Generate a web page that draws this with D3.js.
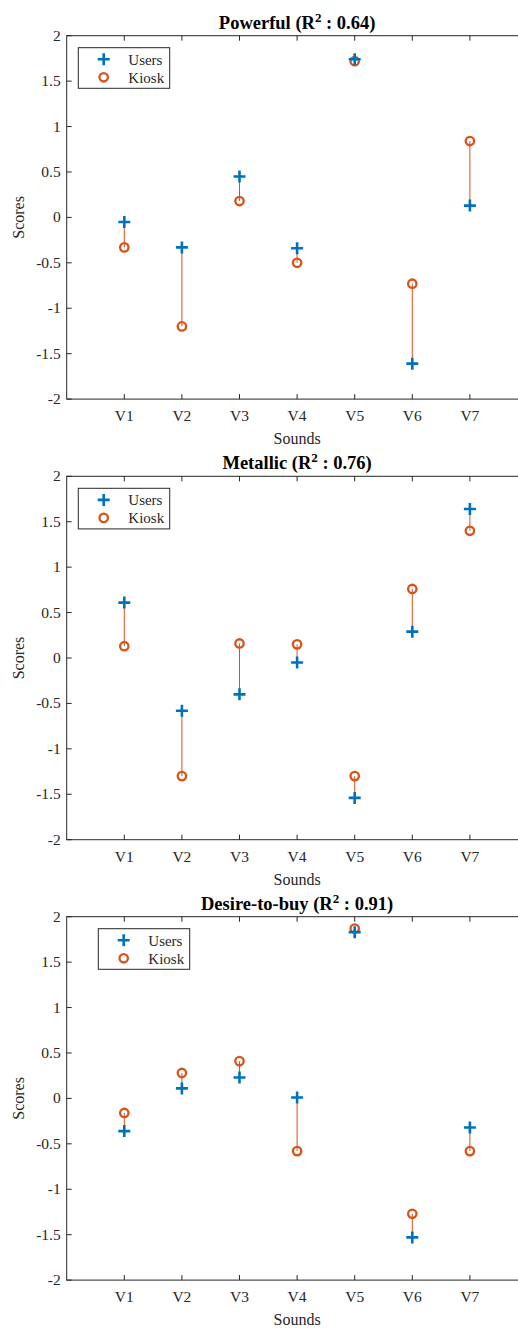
<!DOCTYPE html>
<html>
<head>
<meta charset="utf-8">
<script src="https://cdnjs.cloudflare.com/ajax/libs/d3/7.8.5/d3.min.js"></script>
<style>
  body { margin: 0; background: #fff; }
  svg { display: block; }
  text { font-family: "Liberation Serif", "Times New Roman", serif; fill: #262626; }
</style>
</head>
<body>
<div id="chart"></div>
<script>
// sound names on the x axis
const sounds = ["V1", "V2", "V3", "V4", "V5", "V6", "V7"];
const yTicks = [-2, -1.5, -1, -0.5, 0, 0.5, 1, 1.5, 2];

// panel titles and R^2
const titles = ["Powerful", "Metallic", "Desire-to-buy"];
const r2 = ["0.64", "0.76", "0.91"];

// scores
const powerfulUsers = [-0.05, -0.33, 0.45, -0.34, 1.74, -1.61, 0.13];
const powerfulKiosk = [-0.33, -1.20, 0.18, -0.50, 1.72, -0.73, 0.84];
const metallicUsers = [0.61, -0.58, -0.40, -0.05, -1.54, 0.29, 1.64];
const metallicKiosk = [0.13, -1.30, 0.16, 0.15, -1.30, 0.76, 1.40];
const desireUsers = [-0.36, 0.11, 0.23, 0.01, 1.83, -1.53, -0.32];
const desireKiosk = [-0.16, 0.28, 0.41, -0.58, 1.87, -1.27, -0.58];

const usersSeries = [powerfulUsers, metallicUsers, desireUsers];
const kioskSeries = [powerfulKiosk, metallicKiosk, desireKiosk];
const legendShift = [0, 0, 20];

const W = 518, H = 1328;
const blue = "#0072BD", orange = "#D95319", axisCol = "#262626";

const svg = d3.select("#chart").append("svg")
  .attr("width", W).attr("height", H);

const left = 66.7, right = 527.5, plotH = 363.4;
const tops = [35.7, 476.3, 916.7];

const x = d3.scaleLinear().domain([0, 8]).range([left, right]);

tops.forEach((top, p) => {
  const y = d3.scaleLinear().domain([-2, 2]).range([top + plotH, top]);
  const g = svg.append("g");
  const bottom = top + plotH;

  // box
  g.append("rect")
    .attr("x", left).attr("y", top)
    .attr("width", right - left).attr("height", plotH)
    .attr("fill", "none").attr("stroke", axisCol).attr("stroke-width", 1);

  // x ticks (bottom + top, inward)
  sounds.forEach((s, i) => {
    const xx = x(i + 1);
    g.append("line").attr("x1", xx).attr("x2", xx)
      .attr("y1", bottom).attr("y2", bottom - 5).attr("stroke", axisCol);
    g.append("line").attr("x1", xx).attr("x2", xx)
      .attr("y1", top).attr("y2", top + 5).attr("stroke", axisCol);
    g.append("text").attr("x", xx).attr("y", bottom + 22)
      .attr("text-anchor", "middle").attr("font-size", 15.5).text(s);
  });

  // y ticks
  yTicks.forEach(t => {
    const yy = y(t);
    g.append("line").attr("x1", left).attr("x2", left + 5)
      .attr("y1", yy).attr("y2", yy).attr("stroke", axisCol);
    g.append("text").attr("x", left - 6).attr("y", yy + 5)
      .attr("text-anchor", "end").attr("font-size", 15.5).text(t);
  });

  // axis labels
  g.append("text").attr("x", x(4)).attr("y", bottom + 45)
    .attr("text-anchor", "middle").attr("font-size", 16).text("Sounds");
  g.append("text")
    .attr("transform", `translate(24,${y(0)}) rotate(-90)`)
    .attr("text-anchor", "middle").attr("font-size", 16).text("Scores");

  // title
  const title = g.append("text").attr("x", x(4)).attr("y", top - 7)
    .attr("text-anchor", "middle").attr("font-size", 18.5)
    .attr("font-weight", "bold").style("fill", "#000");
  title.append("tspan").text(titles[p] + " (R");
  title.append("tspan").attr("dy", -7).attr("font-size", 13).text("2");
  title.append("tspan").attr("dy", 7).text(" : " + r2[p] + ")");

  const users = usersSeries[p], kiosk = kioskSeries[p];

  // connecting lines
  g.selectAll(".link").data(sounds).enter().append("line")
    .attr("x1", (d, i) => x(i + 1)).attr("x2", (d, i) => x(i + 1))
    .attr("y1", (d, i) => y(users[i])).attr("y2", (d, i) => y(kiosk[i]))
    .attr("stroke", orange).attr("stroke-width", 1);

  // kiosk circles
  g.selectAll(".kiosk").data(kiosk).enter().append("circle")
    .attr("cx", (d, i) => x(i + 1)).attr("cy", d => y(d))
    .attr("r", 4.2).attr("fill", "none")
    .attr("stroke", orange).attr("stroke-width", 2.3);

  // users plus
  g.selectAll(".users").data(users).enter().append("path")
    .attr("transform", (d, i) => `translate(${x(i + 1)},${y(d)})`)
    .attr("d", "M-6,0H6M0,-6V6")
    .attr("stroke", blue).attr("stroke-width", 2.6).attr("fill", "none");

  // legend
  const lx = 78.3 + legendShift[p], ly = top + 12;
  g.append("rect").attr("x", lx).attr("y", ly)
    .attr("width", 91.4).attr("height", 40.6)
    .attr("fill", "#fff").attr("stroke", axisCol).attr("stroke-width", 1);
  g.append("path").attr("transform", `translate(${lx + 25.4},${ly + 11.6})`)
    .attr("d", "M-6,0H6M0,-6V6")
    .attr("stroke", blue).attr("stroke-width", 2.6);
  g.append("circle").attr("cx", lx + 25.4).attr("cy", ly + 29.6).attr("r", 4.2)
    .attr("fill", "none").attr("stroke", orange).attr("stroke-width", 2.3);
  g.append("text").attr("x", lx + 50).attr("y", ly + 17)
    .attr("font-size", 15).text("Users");
  g.append("text").attr("x", lx + 50).attr("y", ly + 35)
    .attr("font-size", 15).text("Kiosk");
});
</script>
</body>
</html>
